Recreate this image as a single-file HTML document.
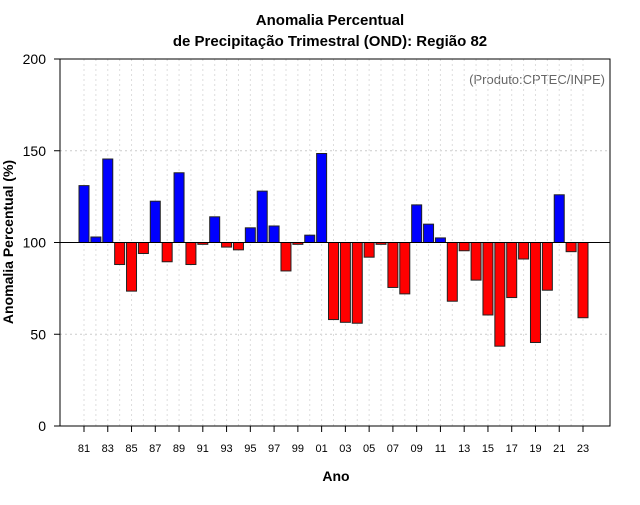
<!DOCTYPE html>
<html><head><meta charset="utf-8"><style>
body{margin:0;background:#fff}
svg{font-family:"Liberation Sans",sans-serif}
</style></head><body>
<svg id="chart" width="640" height="500">
<text x="330" y="25" text-anchor="middle" font-size="15" font-weight="bold">Anomalia Percentual</text>
<text x="330" y="46" text-anchor="middle" font-size="15" font-weight="bold">de Precipitação Trimestral (OND): Região 82</text>
<text x="605" y="84" text-anchor="end" font-size="13" fill="#666">(Produto:CPTEC/INPE)</text>
<text x="336" y="481" text-anchor="middle" font-size="14" font-weight="bold">Ano</text>
<text transform="translate(13,242) rotate(-90)" text-anchor="middle" font-size="14" font-weight="bold">Anomalia Percentual (%)</text>
<g id="grid"></g><g id="bars"></g><g id="axes"></g>
<rect x="60" y="59" width="550" height="367" fill="none" stroke="#000"/>
</svg>
<script>
const years=[81,82,83,84,85,86,87,88,89,90,91,92,93,94,95,96,97,98,99,0,1,2,3,4,5,6,7,8,9,10,11,12,13,14,15,16,17,18,19,20,21,22,23];
const values=[131,103,145.5,88,73.5,94,122.5,89.5,138,88,99,114,97.5,96,108,128,109,84.5,99,104,148.5,58,56.5,56,92,99,75.5,72,120.5,110,102.5,68,95.5,79.5,60.5,43.5,70,91,45.5,74,126,95,59];
const yTicks=[0,50,100,150,200];
const NS='http://www.w3.org/2000/svg';
const x0=84,dx=(583-84)/42;
const xs=i=>x0+i*dx;
const ys=v=>426-v*367/200;
const grid=document.getElementById('grid'),bars=document.getElementById('bars'),axes=document.getElementById('axes');
function mk(tag,a,p){const e=document.createElementNS(NS,tag);for(const k in a)e.setAttribute(k,a[k]);p.appendChild(e);return e;}
yTicks.forEach(t=>{
 if(t>0&&t<200&&t!==100){const l=mk('line',{x1:60,x2:610,y1:ys(t),y2:ys(t),stroke:'#ccc','stroke-dasharray':'2,3'},grid);
 
 }
 const tk=mk('line',{x1:54,x2:60,y1:ys(t),y2:ys(t),stroke:'#000'},axes);
 
 
 const tx=mk('text',{x:46,y:ys(t)+5,'text-anchor':'end','font-size':14},axes);tx.textContent=t;
 
 
});
years.forEach((yr,i)=>{
 const g=mk('line',{x1:xs(i),x2:xs(i),y1:59,y2:426,stroke:'#ddd','stroke-dasharray':'2,3'},grid);
 
 
 const v=values[i],top=Math.min(ys(v),ys(100)),h=Math.abs(ys(v)-ys(100));
 const r=mk('rect',{x:xs(i)-5,y:top,width:10,height:Math.max(h,0.8),fill:v>=100?'#0000ff':'#ff0000',stroke:'#222','stroke-width':1},bars);
 
 
 if(i%2===0){
  const tk=mk('line',{x1:xs(i),x2:xs(i),y1:426,y2:432,stroke:'#000'},axes);
  
  
  const tx=mk('text',{x:xs(i),y:452,'text-anchor':'middle','font-size':11},axes);tx.textContent=String(yr).padStart(2,'0');
  
  
 }
});
const base=mk('line',{x1:60,x2:610,y1:ys(100),y2:ys(100),stroke:'#000'},axes);


</script>
</body></html>
